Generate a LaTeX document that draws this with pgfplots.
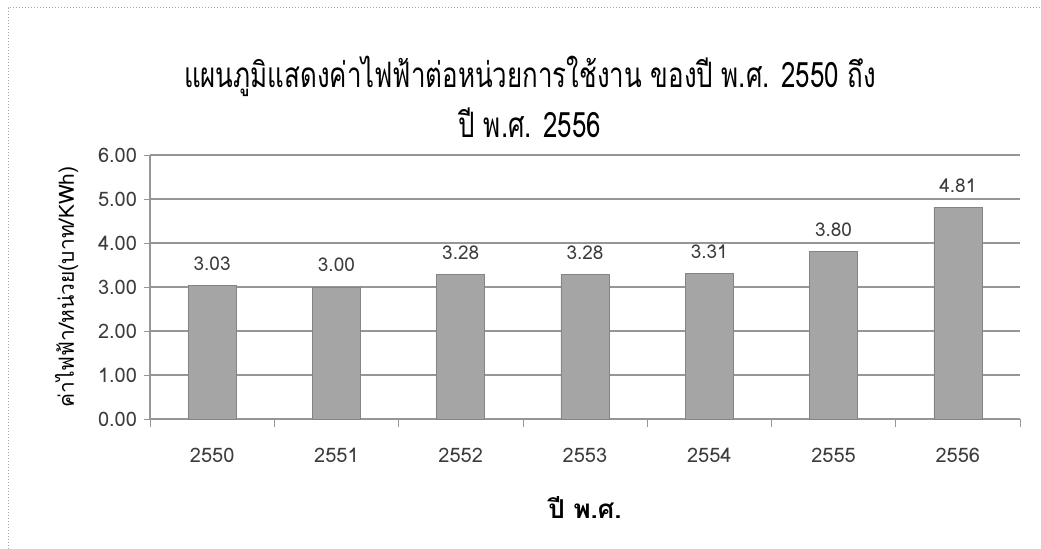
\documentclass[border=0pt]{standalone}
\usepackage{fontspec}
\setmainfont[Script=Thai]{Loma}
\newfontfamily\titlefont[Script=Thai, FakeStretch=0.74]{Loma}
\usepackage{pgfplots}
\pgfplotsset{compat=1.18}
\definecolor{barg}{RGB}{165,165,165}
\definecolor{gridg}{RGB}{150,150,150}
\definecolor{txt}{RGB}{60,60,60}
\begin{document}
\begin{tikzpicture}
\useasboundingbox (0,0) rectangle (520.5pt,274.5pt);
\draw[gray!70, densely dotted, line width=0.5pt] (4pt,0) -- (4pt,270.5pt) -- (520.5pt,270.5pt);
\node[font=\titlefont\fontsize{17.5}{20}\selectfont, color=black, align=center] at (265pt,226pt) {แผนภูมิแสดงค่าไฟฟ้าต่อหน่วยการใช้งาน ของปี พ.ศ. 2550 ถึง\\[5pt] ปี พ.ศ. 2556};
\begin{axis}[
  at={(75pt,65pt)}, anchor=south west,
  scale only axis, width=435pt, height=132pt,
  xmin=-0.5, xmax=6.5, ymin=0, ymax=6,
  ytick={0,1,2,3,4,5,6},
  xtick={0,1,2,3,4,5,6},
  xticklabels={2550,2551,2552,2553,2554,2555,2556},
  minor xtick={-0.5,0.5,1.5,2.5,3.5,4.5,5.5,6.5},
  major x tick style={draw=none},
  minor x tick style={gridg},
  minor tick length=4pt,
  y tick style={gridg},
  major tick length=3pt,
  tick align=outside,
  yticklabel style={/pgf/number format/fixed, /pgf/number format/fixed zerofill, /pgf/number format/precision=2},
  /pgf/number format/assume math mode=true,
  ticklabel style={font=\fontsize{10}{12}\selectfont, color=txt},
  xticklabel style={yshift=-8pt},
  ymajorgrids, grid style={gridg, line width=0.6pt},
  axis x line*=bottom, axis y line*=left,
  axis line style={gridg, line width=0.6pt},
  every outer x axis line/.append style={-}, every outer y axis line/.append style={-},
  xlabel={ปี พ.ศ.}, xlabel style={font=\fontsize{13}{15}\selectfont\bfseries, yshift=-10pt},
  ylabel={ค่าไฟฟ้า/หน่วย(บาท/KWh)}, ylabel style={font=\fontsize{10.5}{12}\selectfont, color=black, yshift=3pt},
  nodes near coords,
  nodes near coords style={font=\fontsize{9.5}{11}\selectfont, color=txt, /pgf/number format/fixed, /pgf/number format/fixed zerofill, /pgf/number format/precision=2, /pgf/number format/assume math mode=true},
  every node near coord/.append style={yshift=4pt},
  clip=false,
]
\addplot[ybar, bar width=24pt, fill=barg, draw=barg!80!black, line width=0.3pt] coordinates {
(0,3.03) (1,3.00) (2,3.28) (3,3.28) (4,3.31) (5,3.80) (6,4.81)
};
\end{axis}
\end{tikzpicture}
\end{document}
